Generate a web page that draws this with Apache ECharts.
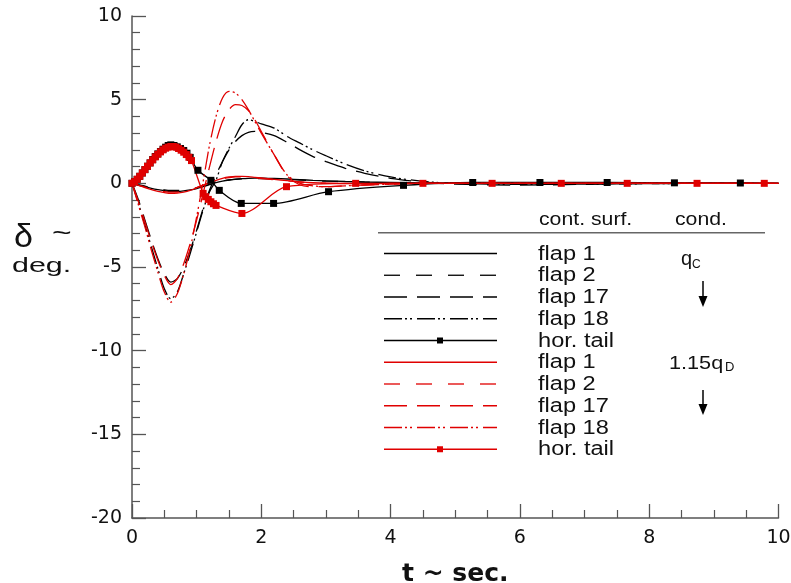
<!DOCTYPE html>
<html>
<head>
<meta charset="utf-8">
<script src="https://cdn.jsdelivr.net/npm/echarts@6/dist/echarts.min.js"></script>
<style>
  html, body { margin: 0; padding: 0; background: #fff; }
  #chart { width: 791px; height: 583px; }
</style>
</head>
<body>
<div id="chart"></div>
<script>
// time base (s) shared by the flap deflection traces
const T_FLAP = [0,0.1,0.2,0.3,0.4,0.5,0.6,0.7,0.8,0.9,1.0,1.1,1.2,1.3,1.4,1.5,1.6,1.7,1.8,1.9,2.0,2.2,2.4,2.6,2.8,3.0,3.3,3.6,4.0,4.5,5,6,7,8,9,10];

// condition q_C (black)
const QC_FLAP1  = [0,-0.1,-0.2,-0.3,-0.38,-0.44,-0.48,-0.48,-0.45,-0.39,-0.31,-0.2,-0.08,0.04,0.13,0.2,0.25,0.28,0.3,0.31,0.31,0.29,0.26,0.22,0.18,0.15,0.11,0.08,0.05,0.02,0.01,0,0,0,0,0];
const QC_FLAP2  = [0,-0.08,-0.17,-0.26,-0.33,-0.39,-0.42,-0.42,-0.39,-0.34,-0.26,-0.16,-0.05,0.06,0.14,0.2,0.24,0.27,0.28,0.29,0.29,0.27,0.24,0.2,0.16,0.13,0.1,0.07,0.04,0.02,0.01,0,0,0,0,0];
const QC_FLAP17 = [0,-1.0,-2.2,-3.4,-4.5,-5.4,-5.9,-5.7,-5.0,-4.0,-2.8,-1.5,-0.4,0.5,1.3,2.0,2.5,2.85,3.05,3.1,3.05,2.85,2.45,2.0,1.6,1.3,0.9,0.6,0.3,0.08,-0.05,-0.1,-0.06,-0.02,0,0];
const QC_FLAP18 = [0,-1.2,-2.5,-3.8,-5.1,-6.3,-6.9,-6.5,-5.4,-4.2,-2.9,-1.6,-0.5,0.2,1.3,2.1,2.8,3.5,3.8,3.7,3.55,3.3,2.8,2.4,2.0,1.65,1.15,0.75,0.38,0.12,0,-0.06,-0.05,-0.02,0,0];
const T_TAIL_QC = [0,0.04,0.08,0.12,0.16,0.2,0.24,0.28,0.32,0.36,0.4,0.44,0.48,0.52,0.56,0.6,0.65,0.7,0.75,0.8,0.85,0.9,1.02,1.22,1.35,1.69,2.19,3.04,4.2,5.27,6.31,7.35,8.39,9.41,10];
const QC_TAIL   = [0,0.1,0.24,0.42,0.62,0.82,1.02,1.22,1.42,1.6,1.76,1.9,2.04,2.16,2.26,2.3,2.26,2.18,2.08,1.96,1.8,1.55,0.78,0.18,-0.42,-1.2,-1.2,-0.5,-0.12,0.05,0.05,0.05,0.03,0.02,0];

// condition 1.15 q_D (red)
const QD_FLAP1  = [0,-0.12,-0.26,-0.38,-0.48,-0.55,-0.6,-0.58,-0.52,-0.42,-0.28,-0.12,0.04,0.18,0.3,0.38,0.42,0.42,0.4,0.36,0.32,0.24,0.16,0.09,0.04,0.01,-0.01,-0.02,-0.01,0,0,0,0,0,0,0];
const QD_FLAP2  = [0,-0.1,-0.22,-0.33,-0.42,-0.49,-0.53,-0.52,-0.47,-0.38,-0.26,-0.11,0.04,0.16,0.27,0.34,0.38,0.38,0.37,0.33,0.29,0.22,0.15,0.08,0.03,0.01,-0.01,-0.02,-0.01,0,0,0,0,0,0,0];
const QD_FLAP17 = [0,-1.1,-2.3,-3.5,-4.6,-5.5,-6.05,-5.7,-4.8,-3.6,-2.2,-0.6,1.0,2.5,3.7,4.4,4.7,4.65,4.35,3.8,3.1,1.7,0.45,-0.1,-0.2,-0.2,-0.15,-0.1,-0.05,0,0,0,0,0,0,0];
const QD_FLAP18 = [0,-1.3,-2.6,-4.0,-5.3,-6.5,-7.1,-6.6,-5.4,-3.9,-2.0,0.1,2.3,4.0,5.1,5.5,5.4,5.0,4.4,3.7,3.0,1.7,0.5,0,-0.15,-0.2,-0.15,-0.1,-0.05,0,0,0,0,0,0,0];
const T_TAIL_QD = [0,0.04,0.08,0.12,0.16,0.2,0.24,0.28,0.32,0.36,0.4,0.44,0.48,0.52,0.56,0.6,0.64,0.68,0.72,0.76,0.8,0.84,0.88,0.92,1.1,1.14,1.18,1.22,1.26,1.3,1.7,2.39,3.46,4.5,5.57,6.64,7.66,8.74,9.78,10];
const QD_TAIL   = [0,0.1,0.24,0.42,0.62,0.82,1.02,1.22,1.4,1.58,1.74,1.88,2.0,2.1,2.16,2.2,2.2,2.16,2.08,1.98,1.86,1.72,1.56,1.36,-0.6,-0.8,-0.96,-1.1,-1.22,-1.32,-1.8,-0.2,0,0,0,0,0,0,0,0];

// axis ticks
const X_TICKS = { min: 0, max: 10, step: 2 };
const Y_TICKS = { min: -20, max: 10, step: 5 };

// legend entries
const SURFACES = ['flap 1', 'flap 2', 'flap 17', 'flap 18', 'hor. tail'];

const BLACK = '#000000';
const RED = '#e00000';
const DASH = {
  'flap 1': 'solid',
  'flap 2': [16, 16],
  'flap 17': [23, 10],
  'flap 18': [18, 3, 2, 3, 2, 5],
  'hor. tail': 'solid'
};

function pairs(t, v, lastBare) {
  return t.map((x, i) => {
    if (lastBare && i === t.length - 1) return { value: [x, v[i]], symbol: 'none' };
    return [x, v[i]];
  });
}

function flapSeries(name, color, values) {
  return {
    name, type: 'line', data: pairs(T_FLAP, values), smooth: 0.3,
    symbol: 'none', silent: true,
    lineStyle: { color, width: 1.3, type: DASH[name] }
  };
}
function tailSeries(color, t, values) {
  return {
    name: 'hor. tail', type: 'line', data: pairs(t, values, true), smooth: 0.3,
    symbol: 'rect', symbolSize: 7, showSymbol: true, silent: true,
    itemStyle: { color }, lineStyle: { color, width: 1.3 }
  };
}

const series = [
  flapSeries('flap 1', BLACK, QC_FLAP1),
  flapSeries('flap 2', BLACK, QC_FLAP2),
  flapSeries('flap 17', BLACK, QC_FLAP17),
  flapSeries('flap 18', BLACK, QC_FLAP18),
  tailSeries(BLACK, T_TAIL_QC, QC_TAIL),
  flapSeries('flap 1', RED, QD_FLAP1),
  flapSeries('flap 2', RED, QD_FLAP2),
  flapSeries('flap 17', RED, QD_FLAP17),
  flapSeries('flap 18', RED, QD_FLAP18),
  tailSeries(RED, T_TAIL_QD, QD_TAIL)
];

// legend block drawn as graphics
const graphic = [];
const LG = { x0: 384, x1: 497, y0: 253.5, dy: 21.75, tx: 538, mark: 440 };
function txt(x, y, text, size, opts) {
  opts = opts || {};
  return {
    type: 'text', x, y, scaleX: opts.sx || 1, silent: true,
    style: {
      text, fontSize: size, fontFamily: opts.ff || '"Liberation Sans", Arial, sans-serif',
      fontWeight: opts.fw || 'normal', fill: '#111', align: 'left', verticalAlign: 'middle'
    }
  };
}
graphic.push(txt(539, 220.5, 'cont. surf.', 18, { sx: 1.18 }));
graphic.push(txt(675, 220.5, 'cond.', 18, { sx: 1.18 }));
graphic.push({ type: 'line', silent: true, shape: { x1: 378, y1: 232.7, x2: 765, y2: 232.7 }, style: { stroke: '#666', lineWidth: 1.5 } });

[BLACK, RED].forEach((color, g) => {
  SURFACES.forEach((name, i) => {
    const y = LG.y0 + LG.dy * (g * SURFACES.length + i);
    graphic.push({
      type: 'line', silent: true,
      shape: { x1: LG.x0, y1: y, x2: LG.x1, y2: y },
      style: { stroke: color, lineWidth: 1.3, lineDash: DASH[name] === 'solid' ? null : DASH[name] }
    });
    if (name === 'hor. tail') {
      graphic.push({ type: 'rect', silent: true, shape: { x: LG.mark - 3, y: y - 3, width: 6, height: 6 }, style: { fill: color } });
    }
    graphic.push(txt(LG.tx, y + 0.5, name, 20, { sx: 1.18 }));
  });
});

// condition labels with subscripts
graphic.push(txt(681, 259.5, 'q', 20));
graphic.push(txt(692, 264.5, 'C', 12));
graphic.push(txt(669, 363.5, '1.15q', 19, { sx: 1.14 }));
graphic.push(txt(725, 367, 'D', 13));
function arrow(yTop, yTip) {
  graphic.push({ type: 'line', silent: true, shape: { x1: 703, y1: yTop, x2: 703, y2: yTip - 10 }, style: { stroke: '#000', lineWidth: 1.5 } });
  graphic.push({ type: 'polygon', silent: true, shape: { points: [[698.5, yTip - 11], [707.5, yTip - 11], [703, yTip]] }, style: { fill: '#000' } });
}
arrow(281, 307);
arrow(390, 415);

// y-axis title
graphic.push(txt(14, 238, 'δ', 34));
graphic.push(txt(52, 234, '~', 24, { sx: 1.4 }));
graphic.push(txt(12, 266, 'deg.', 21, { sx: 1.45 }));

const axisColor = '#555';
const labelStyle = { fontSize: 19, fontFamily: '"DejaVu Sans", sans-serif', color: '#111' };

const chart = echarts.init(document.getElementById('chart'), null, { renderer: 'canvas' });
chart.setOption({
  animation: false,
  backgroundColor: '#fff',
  grid: { left: 132, top: 16, right: 12.5, bottom: 65, containLabel: false, outerBoundsMode: 'none' },
  xAxis: {
    type: 'value', min: X_TICKS.min, max: X_TICKS.max, interval: X_TICKS.step,
    axisLine: { show: true, onZero: false, lineStyle: { color: axisColor, width: 1.5 } },
    axisTick: { show: true, inside: true, length: 14, lineStyle: { color: axisColor, width: 1.3 } },
    minorTick: { show: true, splitNumber: 4, length: 8, lineStyle: { color: axisColor, width: 1.2 } },
    splitLine: { show: false },
    axisLabel: Object.assign({ margin: 11 }, labelStyle),
    name: 't ~ sec.', nameLocation: 'middle', nameGap: 44,
    nameTextStyle: { fontSize: 25, fontWeight: 'bold', fontFamily: '"DejaVu Sans", sans-serif', color: '#111' }
  },
  yAxis: {
    type: 'value', min: Y_TICKS.min, max: Y_TICKS.max, interval: Y_TICKS.step,
    axisLine: { show: true, onZero: false, lineStyle: { color: axisColor, width: 1.5 } },
    axisTick: { show: true, inside: true, length: 14, lineStyle: { color: axisColor, width: 1.3 } },
    minorTick: { show: true, splitNumber: 5, length: 8, lineStyle: { color: axisColor, width: 1.2 } },
    splitLine: { show: false },
    axisLabel: Object.assign({ margin: 10 }, labelStyle)
  },
  graphic,
  series
});
</script>
</body>
</html>
